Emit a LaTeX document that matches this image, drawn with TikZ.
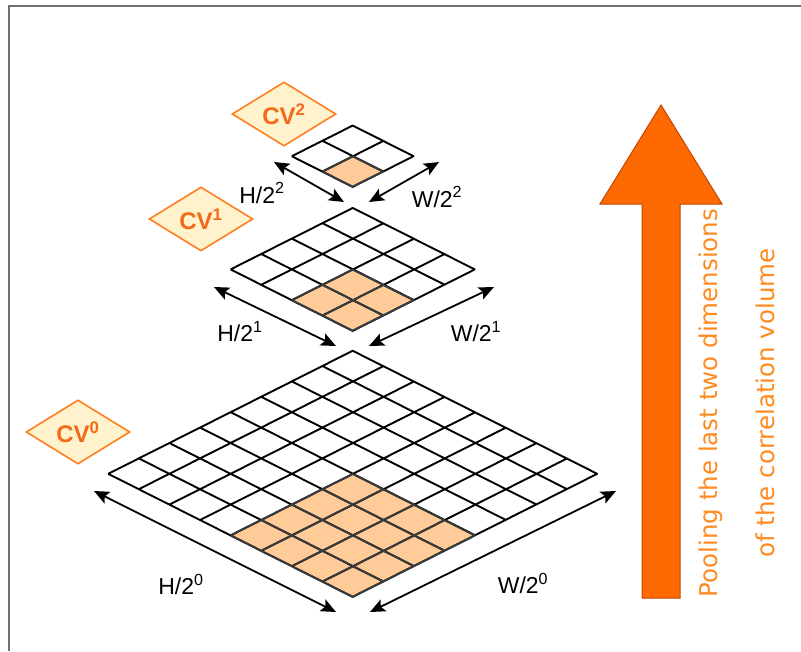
\documentclass[tikz,border=0pt]{standalone}
\usepackage{fontspec}
\setmainfont{Liberation Sans}
\newfontfamily\poolfont{DejaVu Sans}
\usetikzlibrary{shapes.geometric,arrows.meta}
\definecolor{cvorange}{HTML}{F26A17}
\definecolor{cvborder}{HTML}{FF7F1E}
\definecolor{cvfill}{HTML}{FFF2CC}
\definecolor{cellfill}{HTML}{FFCC99}
\definecolor{cellline}{HTML}{3A3A3A}
\definecolor{poolfill}{HTML}{FF6A00}
\definecolor{poolborder}{HTML}{C74300}
\definecolor{pooltext}{HTML}{FF8A1F}
\definecolor{framegray}{HTML}{707070}

\begin{document}
\begin{tikzpicture}[x=1pt, y=-1pt, >={Stealth[length=15pt,width=13pt,inset=3pt]},
  cvtag/.style={diamond, draw=cvborder, fill=cvfill, line width=1.6pt,
    minimum width=104pt, minimum height=59pt, inner sep=0pt, text=cvorange,
    font=\fontsize{24}{26}\selectfont\bfseries},
  dimlabel/.style={font=\fontsize{23}{26}\selectfont},
  dimarrow/.style={<->, line width=1.8pt},
  cvgrid/.style={shift={(#1)}, x=1pt, y=1pt, cm={30.6,-15.4,30.6,15.4,(0,0)}},
  gridline/.style={step=1, line width=1.9pt}]
  \useasboundingbox (0,0) rectangle (801,651);
  % Frame of the figure
  \draw[framegray, line width=1.3pt] (9,651) -- (9,6) -- (801,6);

  % Correlation volume CV0 (8 x 8)
  \begin{scope}[cvgrid={108.2,473.8}]
    \fill[cellfill] (4,0) -- (8,0) -- (8,4) -- (4,4) -- cycle;
    \draw[gridline] (0,0) grid (8,8);
    \draw[gridline, cellline] (4,0) grid (8,4);
  \end{scope}
  % Correlation volume CV1 (4 x 4)
  \begin{scope}[cvgrid={230.6,269.4}]
    \fill[cellfill] (2,0) -- (4,0) -- (4,2) -- (2,2) -- cycle;
    \draw[gridline] (0,0) grid (4,4);
    \draw[gridline, cellline] (2,0) grid (4,2);
  \end{scope}
  % Correlation volume CV2 (2 x 2)
  \begin{scope}[cvgrid={291.8,156.2}]
    \fill[cellfill] (1,0) -- (2,0) -- (2,1) -- (1,1) -- cycle;
    \draw[gridline] (0,0) grid (2,2);
    \draw[gridline, cellline] (1,0) grid (2,1);
  \end{scope}

  % Tags
  \node[cvtag] (cv0) at (78,432) {CV\textsuperscript{0}};
  \node[cvtag] (cv1) at (201,219) {CV\textsuperscript{1}};
  \node[cvtag] (cv2) at (284,114) {CV\textsuperscript{2}};

  % Arrow ends
  \coordinate (h0a) at (94,491);  \coordinate (h0b) at (336,612);
  \coordinate (w0a) at (370,612); \coordinate (w0b) at (616,491);
  \coordinate (h1a) at (214,287); \coordinate (h1b) at (336,346);
  \coordinate (w1a) at (369,346); \coordinate (w1b) at (494,287);
  \coordinate (h2a) at (274,162); \coordinate (h2b) at (344,202);
  \coordinate (w2a) at (369,202); \coordinate (w2b) at (439,162);
  % Size arrows
  \draw[dimarrow] (h0a) -- (h0b);
  \draw[dimarrow] (w0a) -- (w0b);
  \draw[dimarrow] (h1a) -- (h1b);
  \draw[dimarrow] (w1a) -- (w1b);
  \draw[dimarrow] (h2a) -- (h2b);
  \draw[dimarrow] (w2a) -- (w2b);
  % Size labels
  \node[dimlabel] (h0) at (181,584) {H/2\textsuperscript{0}};
  \node[dimlabel] (w0) at (523,583) {W/2\textsuperscript{0}};
  \node[dimlabel] (h1) at (240,332) {H/2\textsuperscript{1}};
  \node[dimlabel] (w1) at (476,332) {W/2\textsuperscript{1}};
  \node[dimlabel] (h2) at (262,193) {H/2\textsuperscript{2}};
  \node[dimlabel] (w2) at (437,197) {W/2\textsuperscript{2}};

  % Pooling arrow
  \filldraw[fill=poolfill, draw=poolborder, line width=1pt]
    (642,598) -- (642,204) -- (600,204) -- (661,105) -- (722,204)
    -- (680,204) -- (680,598) -- cycle;
  \node[rotate=90, align=center, text=pooltext, inner sep=0pt,
    font=\poolfont\fontsize{24.5}{57}\selectfont] (pool) at (737,403)
    {Pooling the last two dimensions\\of the correlation volume};
\end{tikzpicture}
\end{document}
